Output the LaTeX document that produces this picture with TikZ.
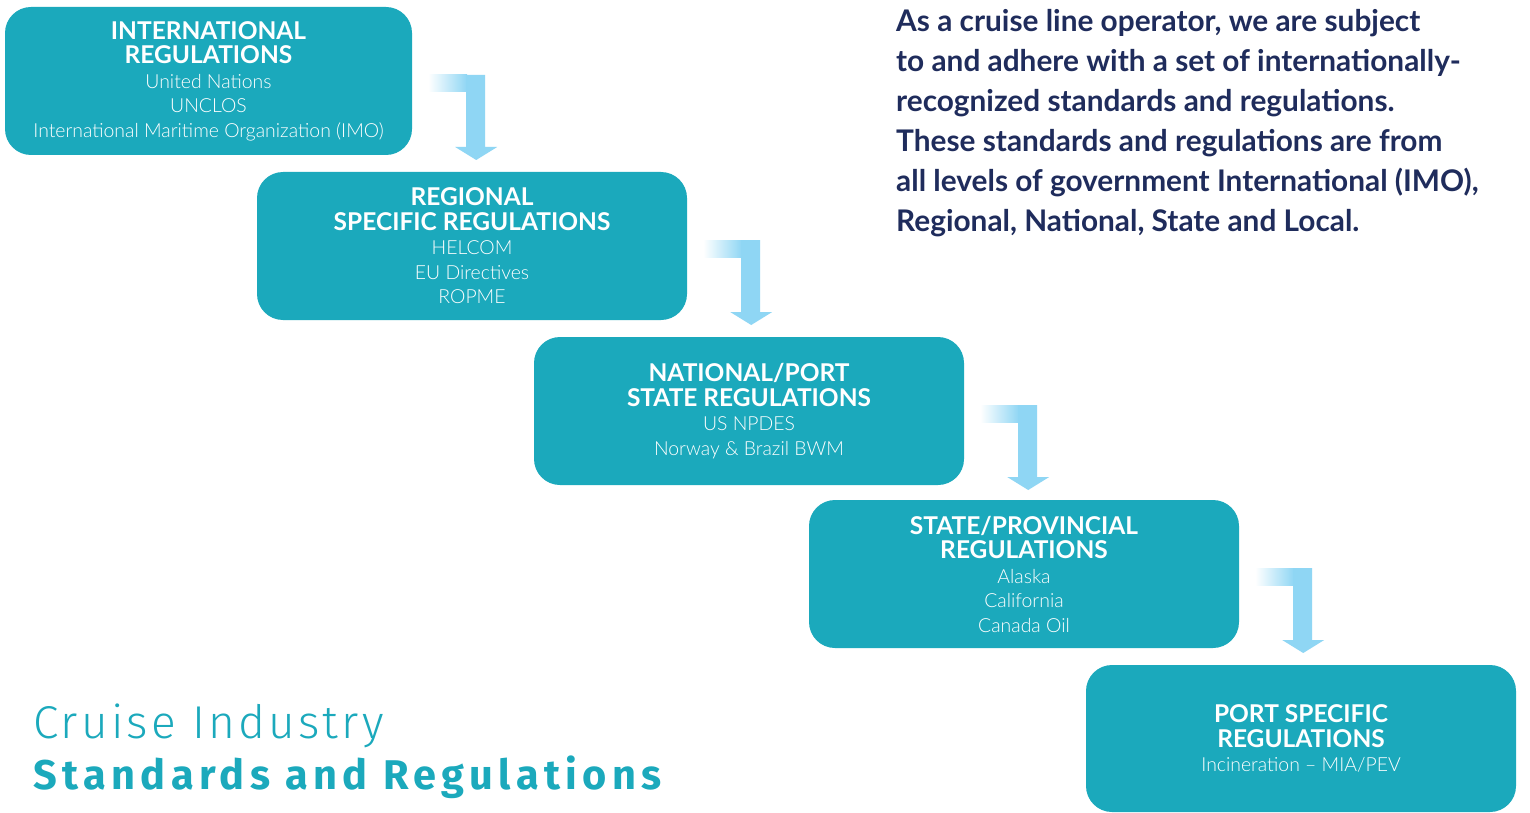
\documentclass[tikz,border=0pt]{standalone}
\usepackage{fontspec}
\setmainfont{Lato}
\newfontfamily\latolight{Lato Light}
\newfontfamily\firalight{Fira Sans Light}[LetterSpace=7]
\newfontfamily\firabold{Fira Sans Bold}[LetterSpace=13]
\usetikzlibrary{calc}
\definecolor{boxteal}{HTML}{1BA9BC}
\definecolor{arrowc}{HTML}{8FD6F4}
\definecolor{navy}{HTML}{1F2C5C}
\newcommand\boxhead[1]{{\fontsize{24.5}{24.5}\selectfont\bfseries #1}}
\newcommand\boxsub[1]{{\latolight\fontsize{19.4}{24.5}\selectfont #1}}
\newcommand\steparrow[1]{%
  \shade[left color=white,right color=arrowc] ($(#1.east)+(16,-6)$) rectangle ($(#1.east)+(55,11)$);
  \fill[arrowc] ($(#1.east)+(54,-6)$) -- ++(19,0) -- ++(0,72) -- ++(12,0) -- ++(-21,13) -- ++(-21,-13) -- ++(11,0) -- cycle;
}
\tikzset{
  regbox/.style={rounded corners=26pt, fill=boxteal, text=white, align=center,
    minimum width=430pt, minimum height=148pt, inner sep=0pt,
    font=\fontsize{19.4}{24.5}\selectfont},
}
\begin{document}
\begin{tikzpicture}[x=1pt,y=-1pt]
\useasboundingbox (0,0) rectangle (1530,813);
\fill[white] (0,0) rectangle (1530,813);

\node[regbox, minimum width=407pt] (b1) at (208.5,81)
  {\boxhead{INTERNATIONAL}\\\boxhead{REGULATIONS}\\\boxsub{United Nations}\\\boxsub{UNCLOS}\\\boxsub{International Maritime Organization (IMO)}};
\node[regbox] (b2) at (472,246)
  {\boxhead{REGIONAL}\\\boxhead{SPECIFIC REGULATIONS}\\\boxsub{HELCOM}\\\boxsub{EU Directives}\\\boxsub{ROPME}};
\node[regbox] (b3) at (749,411)
  {\boxhead{NATIONAL/PORT}\\\boxhead{STATE REGULATIONS}\\\boxsub{US NPDES}\\\boxsub{Norway \& Brazil BWM}};
\node[regbox] (b4) at (1024,574)
  {\boxhead{STATE/PROVINCIAL}\\\boxhead{REGULATIONS}\\\boxsub{Alaska}\\\boxsub{California}\\\boxsub{Canada Oil}};
\node[regbox, minimum height=147pt] (b5) at (1301,738.5)
  {\boxhead{PORT SPECIFIC}\\\boxhead{REGULATIONS}\\\boxsub{Incineration – MIA/PEV}};

\steparrow{b1}
\steparrow{b2}
\steparrow{b3}
\steparrow{b4}

\node[anchor=north west, inner sep=0pt, align=left, text=navy,
  font=\fontsize{29.8}{40}\selectfont\bfseries] (intro) at (896,9)
  {As a cruise line operator, we are subject\\
   to and adhere with a set of internationally-\\
   recognized standards and regulations.\\
   These standards and regulations are from\\
   all levels of government International (IMO),\\
   Regional, National, State and Local.};

\node[anchor=base west, inner sep=0pt, text=boxteal,
  font=\firalight\fontsize{46}{50}\selectfont] (t1) at (33,738) {Cruise Industry};
\node[anchor=base west, inner sep=0pt, text=boxteal,
  font=\firabold\fontsize{41.5}{46}\selectfont] (t2) at (33,789) {Standards and Regulations};
\end{tikzpicture}
\end{document}
